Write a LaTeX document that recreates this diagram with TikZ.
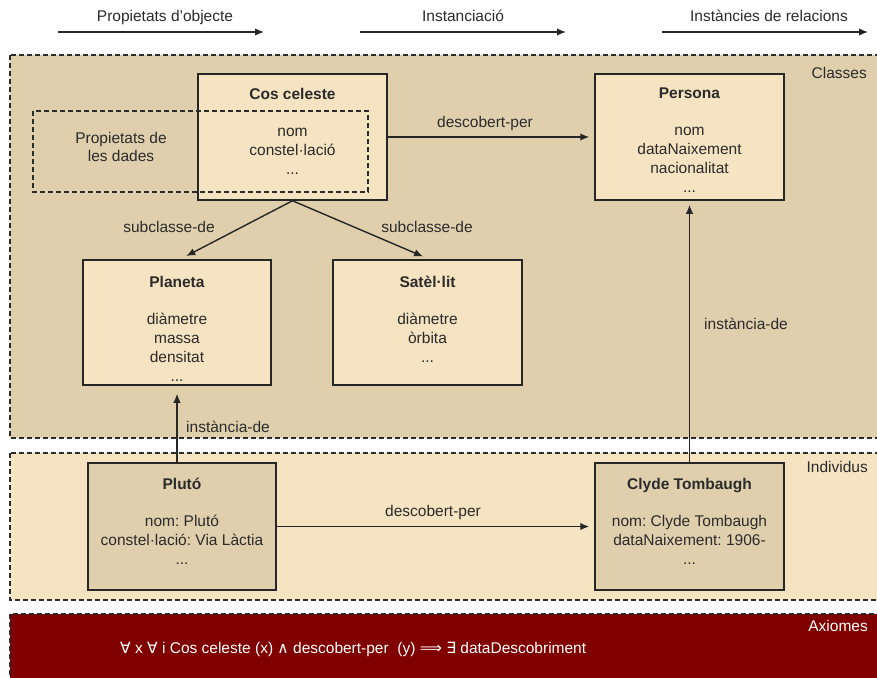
\documentclass[tikz,border=0pt]{standalone}
\usepackage{fontspec}
\setmainfont{Liberation Sans}
\newfontfamily\symbfont{DejaVu Sans}
\usepackage{tikz}
\usetikzlibrary{positioning, arrows.meta}
\frenchspacing

\definecolor{classfill}{HTML}{DFCFAD}
\definecolor{indivfill}{HTML}{F5E3C1}
\definecolor{axiomfill}{HTML}{800000}
\definecolor{inktext}{HTML}{2B2B2B}

\begin{document}
\begin{tikzpicture}[
                x=1pt, y=1pt,
                every node/.style={font=\fontsize{15.5}{19}\selectfont, text=inktext}, % Arial-like text everywhere
                region/.style={draw=inktext, line width=1.2pt, dash pattern=on 5pt off 3pt}, % Dashed layers
                classbox/.style={rectangle, draw=black!85, line width=1.5pt, fill=indivfill, minimum width=189pt, minimum height=126pt, inner sep=0pt},
                indivbox/.style={classbox, fill=classfill, minimum height=127pt},
                boxtext/.style={align=center, inner sep=0pt},
                rel/.style={-{Latex[length=9pt,width=7.5pt]}, line width=1.4pt, draw=black!85}, % Relation arrows
                layerlabel/.style={anchor=base east, inner sep=0pt}
                ]
                \clip (0,0) rectangle (877,-677);
                \fill[white] (0,0) rectangle (877,-677);

                % Layers
                \draw[region, fill=classfill] (10,-55) rectangle (890,-438);
                \draw[region, fill=indivfill] (10,-453) rectangle (890,-600);
                \draw[region, fill=axiomfill] (10,-614) rectangle (890,-690);
                \node[layerlabel] (classes) at (867,-78) {Classes};
                \node[layerlabel] (individus) at (868,-472) {Individus};
                \node[layerlabel, text=white] (axiomes) at (868,-631) {Axiomes};

                % Header arrows
                \node[anchor=base] (propobj) at (165,-22) {Propietats d’objecte};
                \node[anchor=base] (instanc) at (463,-22) {Instanciació};
                \node[anchor=base] (instrel) at (769,-22) {Instàncies de relacions};
                \coordinate (propobjA) at (58,-32);
                \coordinate (propobjB) at (263,-32);
                \coordinate (instancA) at (360,-32);
                \coordinate (instancB) at (565,-32);
                \coordinate (instrelA) at (662,-32);
                \coordinate (instrelB) at (867,-32);
                \draw[rel, shorten >=-1pt] (propobjA) -- (propobjB);
                \draw[rel, shorten >=-1pt] (instancA) -- (instancB);
                \draw[rel, shorten >=-1pt] (instrelA) -- (instrelB);

                % Classes
                \node[classbox] (cos) at (292.5,-137) {};
                \node[boxtext, below=14.5pt of cos.north] (costext) {\textbf{Cos celeste}\\[18pt] nom\\constel·lació\\...};
                \node[classbox] (persona) at (689.5,-137) {};
                \node[boxtext, below=14.5pt of persona.north] (personatext) {\textbf{Persona}\\[18pt] nom\\dataNaixement\\nacionalitat\\...};
                \node[classbox, minimum width=188pt, minimum height=125pt] (planeta) at (177,-322.5) {};
                \node[boxtext, below=16.5pt of planeta.north] (planetatext) {\textbf{Planeta}\\[18pt] diàmetre\\massa\\densitat\\...};
                \node[classbox, minimum height=125pt] (satel) at (427.5,-322.5) {};
                \node[boxtext, below=16.5pt of satel.north] (sateltext) {\textbf{Satèl·lit}\\[18pt] diàmetre\\òrbita\\...};

                % Data properties
                \draw[region, line width=1.3pt] (33,-111) rectangle (368,-192);
                \node[align=center, font=\fontsize{15.5}{18.5}\selectfont] (propdades) at (121,-147) {Propietats de\\les dades};

                % Individuals
                \node[indivbox, minimum width=188pt] (pluto) at (182,-526.5) {};
                \node[boxtext, below=16pt of pluto.north] (plutotext) {\textbf{Plutó}\\[18pt] nom: Plutó\\constel·lació: Via Làctia\\...};
                \node[indivbox] (clyde) at (689.5,-526.5) {};
                \node[boxtext, below=16pt of clyde.north] (clydetext) {\textbf{Clyde Tombaugh}\\[18pt] nom: Clyde Tombaugh\\dataNaixement: 1906-\\...};

                % Relations
                \draw[rel, shorten >=5pt] (cos.east) -- (persona.west);
                \draw[rel, shorten >=7pt] (cos.south) -- ([xshift=3pt]planeta.north);
                \draw[rel, shorten >=7pt] (cos.south) -- ([xshift=2pt]satel.north);
                \draw[rel, shorten >=8pt] (pluto.north -| planeta.south) -- (planeta.south);
                \draw[rel, shorten >=4pt] (clyde.north) -- (persona.south);
                \draw[rel, shorten >=5pt] (pluto.east) -- (clyde.west);
                \node (descA) at (485,-123) {descobert-per};
                \node (subA) at (169,-227) {subclasse-de};
                \node (subB) at (427,-227) {subclasse-de};
                \node (instA) at (228,-427) {instància-de};
                \node (instB) at (746,-324) {instància-de};
                \node (descB) at (433,-512) {descobert-per};

                % Axiom
                \node[anchor=base west, text=white, inner sep=0pt] (axiom) at (120,-653)
                    {{\symbfont ∀} x {\symbfont ∀} i Cos celeste (x) {\symbfont ∧} descobert-per\ \ (y) {\symbfont ⟹} {\symbfont ∃} dataDescobriment};
            \end{tikzpicture}
\end{document}
